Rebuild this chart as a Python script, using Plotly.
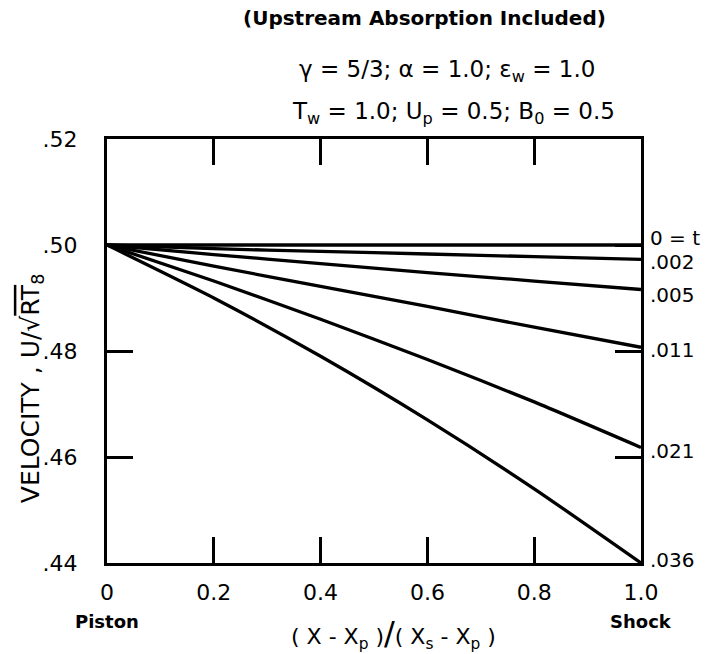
import plotly.graph_objects as go

# Position between piston (0) and shock (1)
x_pos = [0.0, 0.2, 0.4, 0.6, 0.8, 1.0]

# Velocity U/sqrt(R T8) profiles at successive times t
u_t000 = [0.5000, 0.5000, 0.5000, 0.5000, 0.5000, 0.5000]
u_t002 = [0.5000, 0.4993, 0.4988, 0.4983, 0.4978, 0.4973]
u_t005 = [0.5000, 0.4982, 0.4965, 0.4948, 0.4932, 0.4916]
u_t011 = [0.5000, 0.4960, 0.4922, 0.4884, 0.4845, 0.4807]
u_t021 = [0.5000, 0.4932, 0.4860, 0.4784, 0.4704, 0.4618]
u_t036 = [0.5000, 0.4900, 0.4790, 0.4670, 0.4540, 0.4400]

curve_labels = ["0 = t", ".002", ".005", ".011", ".021", ".036"]

x_ticks = [0.0, 0.2, 0.4, 0.6, 0.8, 1.0]
x_ticktext = ["0", "0.2", "0.4", "0.6", "0.8", "1.0"]
y_ticks = [0.44, 0.46, 0.48, 0.50, 0.52]
y_ticktext = [".44", ".46", ".48", ".50", ".52"]

FONT = "DejaVu Sans"
INK = "black"

series = [u_t000, u_t002, u_t005, u_t011, u_t021, u_t036]
# small vertical nudges (px) so the end labels do not collide
label_nudge = [7, -3, -5, -3, -4, 3]

fig = go.Figure()
for ys in series:
    fig.add_trace(go.Scatter(
        x=x_pos, y=ys, mode="lines",
        line=dict(color=INK, width=3.3, shape="spline", smoothing=0.6),
        showlegend=False, hoverinfo="skip",
    ))


def note(text, x, y, size, **kw):
    return dict(x=x, y=y, xref="paper", yref="paper", text=text,
                showarrow=False, xanchor="center", yanchor="middle",
                font=dict(family=FONT, size=size, color=INK), **kw)


annotations = []
for ys, lab, dy in zip(series, curve_labels, label_nudge):
    annotations.append(dict(
        x=x_pos[-1], y=ys[-1], xref="x", yref="y", text=lab,
        showarrow=False, xanchor="left", yanchor="middle",
        xshift=7, yshift=dy, font=dict(family=FONT, size=20, color=INK),
    ))

annotations += [
    # headings above the frame
    note("<b>(Upstream Absorption Included)</b>", 0.5955, 1.2854, 20),
    note("γ = 5/3; α = 1.0; ε<sub>w</sub> = 1.0", 0.637, 1.160, 23),
    note("T<sub>w</sub> = 1.0; U<sub>p</sub> = 0.5; B<sub>0</sub> = 0.5",
         0.648, 1.062, 23),
    # end-point names under the x axis
    note("<b>Piston</b>", 0.0, -0.137, 18),
    note("<b>Shock</b>", 1.0, -0.137, 18),
    # axis titles
    note("( X - X<sub>p</sub> )<span style='font-size:32px'>/</span>"
         "( X<sub>s</sub> - X<sub>p</sub> )", 0.537, -0.166, 22),
    note("VELOCITY , U/√<span style='text-decoration:overline'>RT</span>"
         "<sub>8</sub>", -0.1404, 0.41, 25, textangle=-90),
]

axis_common = dict(
    showline=True, linecolor=INK, linewidth=3, mirror="ticks",
    ticks="inside", ticklen=26, tickwidth=2.5, tickcolor=INK,
    showgrid=False, zeroline=False,
    tickfont=dict(family=FONT, size=22, color=INK),
)

fig.update_layout(
    width=707, height=654,
    margin=dict(l=107, r=66, t=139, b=91),
    paper_bgcolor="white", plot_bgcolor="white",
    xaxis=dict(range=[0, 1], tickvals=x_ticks, ticktext=x_ticktext,
               ticklabelstandoff=8, **axis_common),
    yaxis=dict(range=[0.44, 0.52], tickvals=y_ticks, ticktext=y_ticktext,
               ticklabelstandoff=22, **axis_common),
    annotations=annotations,
)

fig.write_html("out.html")
